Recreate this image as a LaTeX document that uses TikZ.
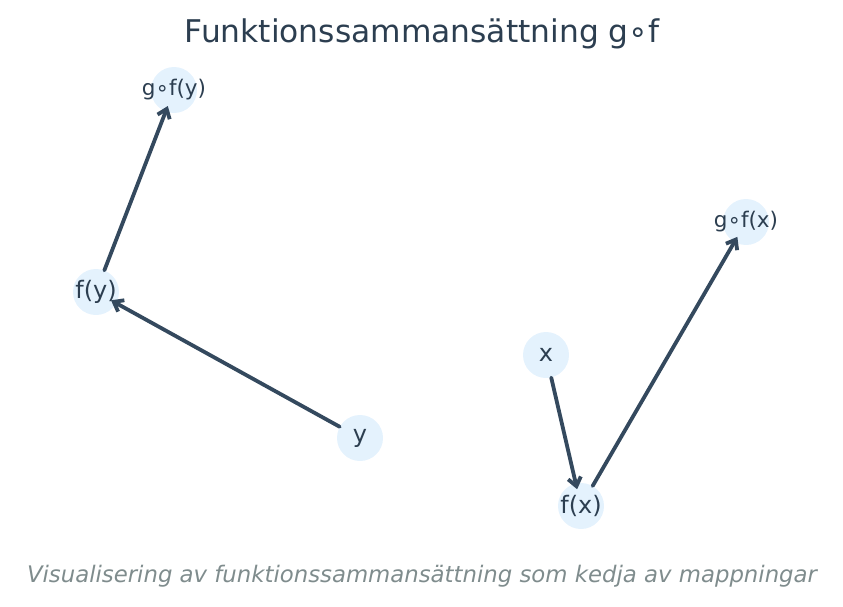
\documentclass[tikz,border=0pt]{standalone}
\usepackage{fontspec}
\setmainfont{DejaVu Sans}
\usetikzlibrary{%
  arrows.meta,%
  positioning%
}
\definecolor{nodefill}{HTML}{E4F2FD}
\definecolor{textcol}{HTML}{2C3E50}
\definecolor{edgecol}{HTML}{34495E}
\definecolor{capcol}{HTML}{7F8C8D}
\newcommand{\lbl}[1]{\makebox[0pt]{#1}}

\begin{document}
\begin{tikzpicture}[
    x=1pt,y=-1pt,
    line join=round,line cap=round,
    vertex/.style={circle,fill=nodefill,minimum size=46pt,inner sep=0pt,
        text=textcol,font=\fontsize{24}{26}\selectfont},
    small/.style={font=\fontsize{21.5}{23}\selectfont},
    map/.style={-{Straight Barb[length=8.5pt,width=13pt,line width=3.8pt]},
        draw=edgecol,line width=3.8pt,shorten >=-6pt}
  ]
    \useasboundingbox (0,0) rectangle (843,607);

    % title and caption
    \node[text=textcol,font=\fontsize{31.3}{34}\selectfont] (title) at (422,34)
        {Funktionssammansättning g∘f};
    \node[text=capcol,font=\fontsize{22.8}{26}\selectfont\itshape] (caption) at (422,576)
        {Visualisering av funktionssammansättning som kedja av mappningar};

    % left chain
    \node [vertex,small] (gfy) at (174,90)  {\lbl{g∘f(y)}};
    \node [vertex]       (fy)  at (96,292)  {\lbl{f(y)}};
    \node [vertex]       (y)   at (360,438) {\lbl{y}};

    % right chain
    \node [vertex]       (x)   at (546,355) {\lbl{x}};
    \node [vertex]       (fx)  at (581,506) {\lbl{f(x)}};
    \node [vertex,small] (gfx) at (746,222) {\lbl{g∘f(x)}};

    \draw[map] (y) -- (fy);
    \draw[map] (fy) -- (gfy);
    \draw[map] (x) -- (fx);
    \draw[map] (fx) -- (gfx);
\end{tikzpicture}
\end{document}
